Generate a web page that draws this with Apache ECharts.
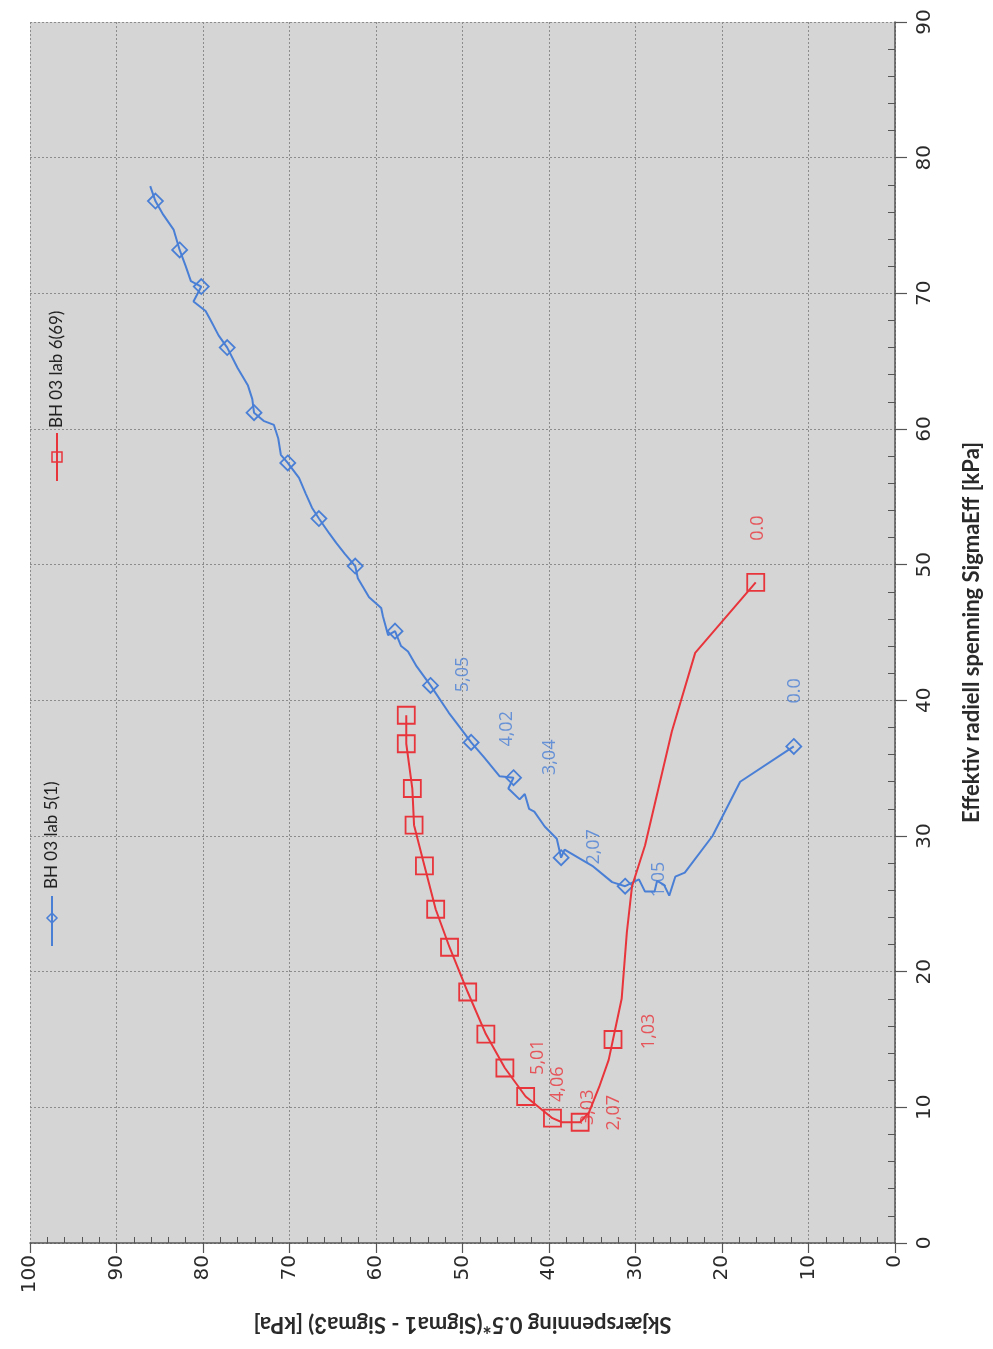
<!DOCTYPE html>
<html>
<head>
<meta charset="utf-8">
<script src="https://cdn.jsdelivr.net/npm/echarts@6/dist/echarts.min.js"></script>
<style>
html,body{margin:0;padding:0;background:#ffffff;}
#chart{width:993px;height:1349px;}
</style>
</head>
<body>
<div id="chart"></div>
<script>
// ---- Data (original chart: x = SigmaEff, y = shear; page is rotated 90° CCW) ----
const seriesNames = ['BH 03 lab 5(1)', 'BH 03 lab 6(69)'];

// BH 03 lab 5(1)
const blueShear = [11.7,17.9,21.1,24.3,25.4,26.1,26.7,27.5,27.8,28.9,29.6,31.2,32.7,35.0,38.2,38.6,39.1,40.5,41.7,42.3,42.8,43.4,44.7,44.1,45.7,47.5,49.0,50.3,51.6,53.7,55.3,56.3,57.1,57.8,58.6,59.2,59.4,60.8,62.1,62.4,63.6,64.6,65.4,66.6,67.4,68.1,68.9,70.2,71.0,71.3,71.8,73.0,74.1,74.3,74.8,76.0,77.2,78.2,79.1,79.7,81.1,80.2,81.4,82.0,82.7,83.4,84.6,85.5,86.1];
const blueSigma = [36.6,34.0,30.0,27.3,27.0,25.6,26.4,26.7,25.9,25.9,26.8,26.3,26.6,27.8,29.0,28.4,29.8,30.7,31.8,32.0,33.1,32.7,33.5,34.3,34.4,35.8,36.9,38.0,39.1,41.1,42.5,43.6,44.0,45.1,44.8,46.2,46.8,47.6,49.0,49.9,50.8,51.6,52.3,53.4,54.2,55.2,56.4,57.5,58.1,59.3,60.3,60.6,61.2,62.2,63.2,64.5,66.0,66.9,68.0,68.7,69.4,70.5,70.9,72.0,73.2,74.7,75.8,76.8,77.9];
const blueMarker = [1,0,0,0,0,0,0,0,0,0,0,1,0,0,0,1,0,0,0,0,0,0,0,1,0,0,1,0,0,1,0,0,0,1,0,0,0,0,0,1,0,0,0,1,0,0,0,1,0,0,0,0,1,0,0,0,1,0,0,0,0,1,0,0,1,0,0,1,0];

// BH 03 lab 6(69)
const redShear = [16.1,23.1,25.8,28.9,30.4,31.0,31.6,32.6,33.1,34.2,35.4,36.4,38.5,39.6,42.7,45.1,47.3,49.4,51.5,53.1,54.4,55.6,55.8,56.5,56.5];
const redSigma = [48.7,43.5,37.7,29.3,26.3,22.9,18.0,15.0,13.5,11.5,9.6,8.9,8.9,9.2,10.8,12.9,15.4,18.5,21.8,24.6,27.8,30.8,33.5,36.8,38.9];
const redMarker = [1,0,0,0,0,0,0,1,0,0,0,1,0,1,1,1,1,1,1,1,1,1,1,1,1];

// Point annotations (text placed in data coordinates)
const blueLabelText = ['0.0','1,05','2,07','3,04','4,02','5,05'];
const blueLabelShear = [11.6,27.3,34.8,39.9,44.9,49.9];
const blueLabelSigma = [40.7,26.8,29.2,35.8,37.9,41.9];
const redLabelText = ['0.0','1,03','2,07','3,03','4,06','5,01'];
const redLabelShear = [15.9,28.5,32.5,35.5,39.0,41.3];
const redLabelSigma = [52.7,15.6,9.6,10.0,11.7,13.7];

// Axis ticks
const shearMin = 0, shearMax = 100, shearStep = 10;
const sigmaMin = 0, sigmaMax = 90, sigmaStep = 10;

const xTitle = 'Skjærspenning 0.5*(Sigma1 - Sigma3) [kPa]';
const yTitle = 'Effektiv radiell spenning SigmaEff [kPa]';

// ---- Styling ----
const BLUE = '#4a7fd6';
const RED = '#e8343b';
const DIAMOND = 'path://M1,0 L2,1 L1,2 L0,1 Z';
const AXIS = '#555555';

function buildLine(xs, ys, marks, sym) {
  return xs.map((x, i) => ({ value: [x, ys[i]], symbol: marks[i] ? sym : 'none' }));
}
function buildLabels(texts, xs, ys) {
  return texts.map((t, i) => ({ name: t, value: [xs[i], ys[i]] }));
}

const chart = echarts.init(document.getElementById('chart'), null, { renderer: 'canvas' });

const legendFont = '17px Lato';
const option = {
  backgroundColor: '#ffffff',
  animation: false,
  grid: {
    left: 30, right: 98, top: 22, bottom: 106,
    show: true, backgroundColor: '#d5d5d5', borderWidth: 0
  },
  xAxis: {
    type: 'value', min: shearMin, max: shearMax, interval: shearStep,
    inverse: true, position: 'bottom',
    axisLine: { show: true, onZero: false, lineStyle: { color: AXIS, width: 1.5 } },
    axisTick: { show: true, inside: false, length: 10, lineStyle: { color: AXIS, width: 1.2 } },
    minorTick: { show: true, splitNumber: 5, length: -6, lineStyle: { color: AXIS, width: 1 } },
    axisLabel: { rotate: 90, margin: 12, fontFamily: 'DejaVu Sans', fontSize: 20, color: '#2a2a2a' },
    splitLine: { show: true, lineStyle: { color: '#8c8c8c', type: [2, 2], width: 1 } },
    name: xTitle, nameLocation: 'middle', nameGap: 70, nameRotate: 180,
    nameTextStyle: { fontFamily: 'Lato', fontWeight: 'bold', fontSize: 22, color: '#2a2a2a' }
  },
  yAxis: {
    type: 'value', min: sigmaMin, max: sigmaMax, interval: sigmaStep,
    position: 'right',
    axisLine: { show: true, onZero: false, lineStyle: { color: AXIS, width: 1.5 } },
    axisTick: { show: true, inside: false, length: 12, lineStyle: { color: AXIS, width: 1.2 } },
    minorTick: { show: true, splitNumber: 5, length: -7, lineStyle: { color: AXIS, width: 1 } },
    axisLabel: { rotate: 90, margin: 20, fontFamily: 'DejaVu Sans', fontSize: 20, color: '#2a2a2a' },
    splitLine: { show: true, lineStyle: { color: '#8c8c8c', type: [2, 2], width: 1 } },
    name: yTitle, nameLocation: 'middle', nameGap: 66, nameRotate: 90,
    nameTextStyle: { fontFamily: 'Lato', fontWeight: 'bold', fontSize: 22, color: '#2a2a2a' }
  },
  series: [
    {
      name: seriesNames[0] + ' labels', type: 'scatter', z: 1,
      symbolSize: 1, itemStyle: { color: 'rgba(0,0,0,0)' },
      label: { show: true, position: 'inside', rotate: 90, formatter: p => p.name,
               color: BLUE, fontFamily: 'Open Sans', fontSize: 18 },
      data: buildLabels(blueLabelText, blueLabelShear, blueLabelSigma)
    },
    {
      name: seriesNames[1] + ' labels', type: 'scatter', z: 1,
      symbolSize: 1, itemStyle: { color: 'rgba(0,0,0,0)' },
      label: { show: true, position: 'inside', rotate: 90, formatter: p => p.name,
               color: RED, fontFamily: 'Open Sans', fontSize: 18 },
      data: buildLabels(redLabelText, redLabelShear, redLabelSigma)
    },
    {
      name: seriesNames[0], type: 'line', z: 3, color: BLUE,
      symbolSize: 15, showSymbol: true,
      lineStyle: { color: BLUE, width: 2 },
      itemStyle: { color: 'rgba(0,0,0,0)', borderColor: BLUE, borderWidth: 1.8 },
      data: buildLine(blueShear, blueSigma, blueMarker, DIAMOND)
    },
    {
      name: seriesNames[1], type: 'line', z: 4, color: RED,
      symbolSize: 17, showSymbol: true,
      lineStyle: { color: RED, width: 2 },
      itemStyle: { color: 'rgba(0,0,0,0)', borderColor: RED, borderWidth: 1.8 },
      data: buildLine(redShear, redSigma, redMarker, 'rect')
    }
  ],
  graphic: [
    // legend entry 1 (rotated)
    { type: 'line', shape: { x1: 52, y1: 946, x2: 52, y2: 896 }, style: { stroke: BLUE, lineWidth: 2 } },
    { type: 'polygon', shape: { points: [[52, 913], [57, 918], [52, 923], [47, 918]] }, style: { fill: 'none', stroke: BLUE, lineWidth: 1.5 } },
    { type: 'text', x: 52, y: 889, rotation: Math.PI / 2,
      style: { text: seriesNames[0], font: legendFont, fill: '#222', align: 'left', verticalAlign: 'middle' } },
    // legend entry 2 (rotated)
    { type: 'line', shape: { x1: 57, y1: 481, x2: 57, y2: 433 }, style: { stroke: RED, lineWidth: 2 } },
    { type: 'rect', shape: { x: 52, y: 452, width: 10, height: 10 }, style: { fill: 'none', stroke: RED, lineWidth: 1.5 } },
    { type: 'text', x: 57, y: 428, rotation: Math.PI / 2,
      style: { text: seriesNames[1], font: legendFont, fill: '#222', align: 'left', verticalAlign: 'middle' } }
  ]
};
chart.setOption(option);
</script>
</body>
</html>
